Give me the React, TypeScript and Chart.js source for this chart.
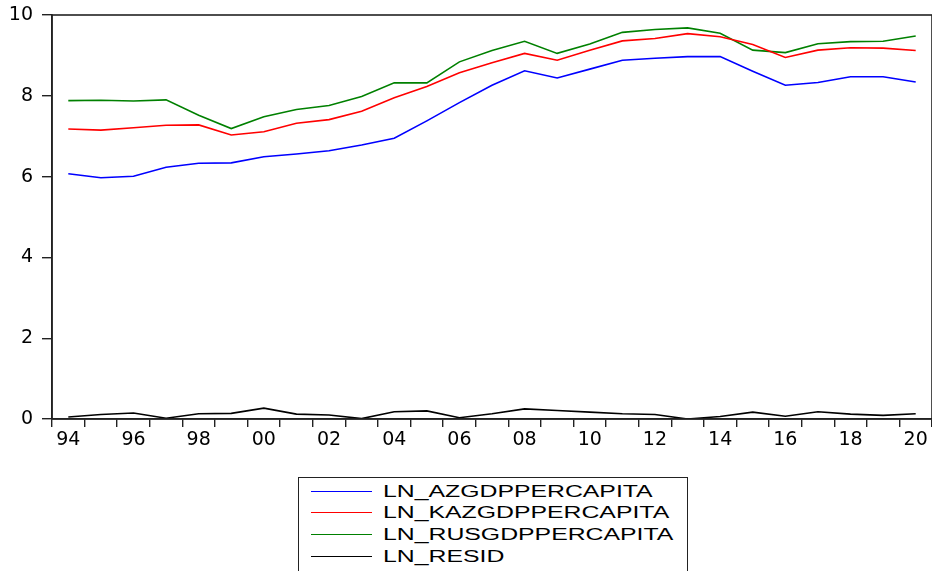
import React, { useEffect, useRef } from "react";
import { Chart, registerables } from "chart.js";

Chart.register(...registerables);

const years = [
  "1994", "1995", "1996", "1997", "1998", "1999", "2000", "2001", "2002",
  "2003", "2004", "2005", "2006", "2007", "2008", "2009", "2010", "2011",
  "2012", "2013", "2014", "2015", "2016", "2017", "2018", "2019", "2020",
];

const lnAz = [
  6.07, 5.97, 6.01, 6.23, 6.33, 6.34, 6.49, 6.56, 6.64, 6.78, 6.95, 7.38, 7.83,
  8.26, 8.62, 8.44, 8.66, 8.88, 8.93, 8.97, 8.97, 8.61, 8.26, 8.33, 8.47, 8.47, 8.34,
];

const lnKaz = [
  7.18, 7.15, 7.21, 7.27, 7.28, 7.03, 7.11, 7.32, 7.41, 7.62, 7.95, 8.23, 8.57,
  8.82, 9.05, 8.88, 9.13, 9.36, 9.42, 9.54, 9.46, 9.27, 8.95, 9.13, 9.19, 9.18, 9.12,
];

const lnRus = [
  7.88, 7.89, 7.87, 7.9, 7.52, 7.19, 7.48, 7.66, 7.76, 7.98, 8.32, 8.32, 8.84,
  9.12, 9.35, 9.05, 9.28, 9.57, 9.64, 9.68, 9.55, 9.13, 9.07, 9.29, 9.34, 9.35, 9.48,
];

const lnResid = [
  0.05, 0.11, 0.15, 0.02, 0.13, 0.14, 0.27, 0.12, 0.1, 0.01, 0.18, 0.2, 0.03,
  0.13, 0.25, 0.21, 0.17, 0.13, 0.11, 0.0, 0.06, 0.17, 0.07, 0.18, 0.12, 0.09, 0.13,
];

const seriesNames = [
  "LN_AZGDPPERCAPITA",
  "LN_KAZGDPPERCAPITA",
  "LN_RUSGDPPERCAPITA",
  "LN_RESID",
];
const seriesColors = ["#0000ff", "#ff0000", "#008000", "#000000"];

const framePlugin = {
  id: "frame",
  afterDraw(chart: any) {
    const { ctx, chartArea } = chart;
    ctx.save();
    ctx.strokeStyle = "#222";
    ctx.lineWidth = 1.6;
    ctx.strokeRect(
      chartArea.left,
      chartArea.top,
      chartArea.right - chartArea.left,
      chartArea.bottom - chartArea.top
    );
    ctx.restore();
  },
};

export default function App() {
  const ref = useRef<HTMLCanvasElement | null>(null);

  useEffect(() => {
    if (!ref.current) return;
    const allData = [lnAz, lnKaz, lnRus, lnResid];
    const chart = new Chart(ref.current, {
      type: "line",
      data: {
        labels: years,
        datasets: allData.map((d, i) => ({
          label: seriesNames[i],
          data: d,
          borderColor: seriesColors[i],
          backgroundColor: seriesColors[i],
          borderWidth: 1.6,
          pointRadius: 0,
          tension: 0,
          fill: false,
        })),
      },
      options: {
        animation: false,
        responsive: false,
        maintainAspectRatio: false,
        layout: { padding: { top: 15, right: 0, left: 0, bottom: 0 } },
        plugins: {
          legend: { display: false },
          tooltip: { enabled: false },
        },
        scales: {
          x: {
            type: "category",
            offset: true,
            grid: {
              offset: true,
              drawOnChartArea: false,
              drawTicks: true,
              tickLength: 8,
              color: "#222",
              lineWidth: 1.4,
            },
            border: { display: true, color: "#222", width: 1.6 },
            ticks: {
              autoSkip: false,
              maxRotation: 0,
              minRotation: 0,
              padding: 2,
              color: "#000",
              font: { family: "DejaVu Sans", size: 19 },
              callback: (_v: any, i: number) =>
                i % 2 === 0 ? years[i].slice(2) : "",
            },
            afterFit: (s: any) => {
              s.height = 41;
              s.paddingLeft = 0;
              s.paddingRight = 0;
            },
          },
          y: {
            min: 0,
            max: 10,
            grid: {
              drawOnChartArea: false,
              drawTicks: true,
              tickLength: 10,
              color: "#222",
              lineWidth: 1.4,
            },
            border: { display: true, color: "#222", width: 1.6 },
            ticks: {
              stepSize: 2,
              padding: 9,
              color: "#000",
              font: { family: "DejaVu Sans", size: 19 },
            },
            afterFit: (s: any) => {
              s.width = 52;
              s.paddingTop = 0;
              s.paddingBottom = 0;
            },
          },
        },
      },
      plugins: [framePlugin],
    });
    return () => chart.destroy();
  }, []);

  const rowCenters = [14, 35, 57, 79];
  return (
    <div
      style={{
        position: "fixed",
        left: 0,
        top: 0,
        width: 932,
        height: 571,
        background: "#fff",
        overflow: "hidden",
      }}
    >
      <canvas
        ref={ref}
        width={932}
        height={460}
        style={{ position: "absolute", left: 0, top: 0, width: 932, height: 460 }}
      />
      <div
        style={{
          position: "absolute",
          left: 298,
          top: 477,
          width: 390,
          height: 120,
          border: "1px solid #222",
          boxSizing: "border-box",
        }}
      >
        {seriesNames.map((name, i) => (
          <div
            key={name}
            style={{
              position: "absolute",
              left: 0,
              top: rowCenters[i] - 11,
              height: 22,
              width: 389,
            }}
          >
            <div
              style={{
                position: "absolute",
                left: 12,
                top: 10,
                width: 61,
                height: 0,
                borderTop: `1.5px solid ${seriesColors[i]}`,
              }}
            />
            <div
              style={{
                position: "absolute",
                left: 84,
                top: 0,
                height: 22,
                lineHeight: "22px",
                fontFamily: "'Liberation Sans', Arial, sans-serif",
                fontSize: 16,
                color: "#000",
                whiteSpace: "nowrap",
                transform: "scaleX(1.55)",
                transformOrigin: "left center",
              }}
            >
              {name}
            </div>
          </div>
        ))}
      </div>
    </div>
  );
}
